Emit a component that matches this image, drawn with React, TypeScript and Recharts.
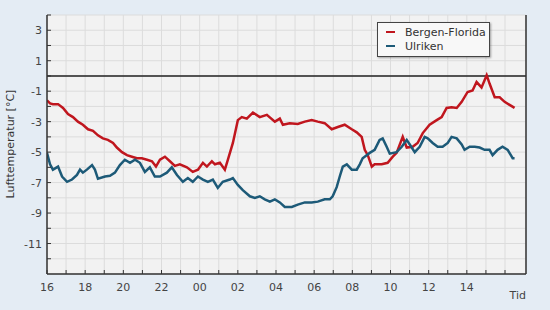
import React from 'react'
import { LineChart, Line, XAxis, YAxis, CartesianGrid, ReferenceLine } from 'recharts'

// hours since 16:00
const redTime = [0, 0.16, 0.31, 0.58, 0.84, 1.1, 1.36, 1.62, 1.88, 2.15, 2.41, 2.67, 2.93, 3.19, 3.46, 3.66, 3.93, 4.19, 4.45, 4.71, 4.97, 5.24, 5.5, 5.71, 5.92, 6.18, 6.44, 6.7, 6.96, 7.33, 7.64, 7.91, 8.17, 8.38, 8.64, 8.8, 9.06, 9.32, 9.48, 9.74, 10.0, 10.21, 10.47, 10.79, 11.15, 11.52, 11.94, 12.2, 12.36, 12.72, 13.14, 13.51, 13.87, 14.19, 14.55, 14.92, 15.24, 15.6, 15.97, 16.23, 16.49, 16.65, 16.81, 17.02, 17.17, 17.54, 17.85, 18.12, 18.32, 18.64, 18.85, 19.16, 19.42, 19.69, 20.05, 20.42, 20.68, 20.94, 21.2, 21.47, 21.73, 22.04, 22.3, 22.51, 22.77, 23.04, 23.19, 23.46, 23.72, 23.98, 24.24, 24.5]
const redTemp = [-1.6, -1.8, -1.85, -1.85, -2.1, -2.5, -2.7, -3.0, -3.2, -3.5, -3.6, -3.9, -4.1, -4.2, -4.4, -4.7, -5.0, -5.2, -5.3, -5.4, -5.4, -5.5, -5.6, -5.95, -5.5, -5.3, -5.6, -5.9, -5.8, -6.0, -6.3, -6.15, -5.7, -5.95, -5.6, -5.8, -5.7, -6.15, -5.5, -4.4, -2.9, -2.7, -2.8, -2.4, -2.7, -2.55, -3.0, -2.8, -3.2, -3.1, -3.15, -3.0, -2.9, -3.0, -3.1, -3.5, -3.35, -3.2, -3.5, -3.7, -4.0, -4.85, -5.2, -5.95, -5.8, -5.8, -5.7, -5.3, -5.05, -4.0, -4.7, -4.65, -4.4, -3.75, -3.2, -2.9, -2.7, -2.1, -2.05, -2.1, -1.7, -1.05, -0.95, -0.4, -0.75, 0.05, -0.5, -1.4, -1.4, -1.7, -1.9, -2.1]

const blueTime = [0, 0.16, 0.31, 0.58, 0.79, 1.05, 1.31, 1.57, 1.73, 1.88, 2.09, 2.36, 2.51, 2.67, 3.04, 3.3, 3.56, 3.82, 4.08, 4.35, 4.61, 4.87, 5.13, 5.39, 5.65, 5.92, 6.28, 6.54, 6.81, 7.12, 7.38, 7.64, 7.91, 8.17, 8.43, 8.69, 8.95, 9.21, 9.58, 9.74, 10.0, 10.26, 10.63, 10.89, 11.15, 11.41, 11.68, 11.94, 12.2, 12.46, 12.83, 13.14, 13.51, 13.87, 14.19, 14.55, 14.82, 14.97, 15.18, 15.34, 15.5, 15.71, 15.97, 16.23, 16.39, 16.54, 16.75, 16.91, 17.17, 17.43, 17.59, 17.8, 17.96, 18.32, 18.59, 18.85, 19.01, 19.27, 19.53, 19.79, 19.95, 20.21, 20.47, 20.73, 21.0, 21.2, 21.47, 21.73, 21.88, 22.15, 22.41, 22.67, 22.93, 23.19, 23.35, 23.61, 23.87, 24.14, 24.4, 24.5]
const blueTemp = [-5.05, -5.8, -6.15, -5.95, -6.6, -6.95, -6.8, -6.5, -6.15, -6.35, -6.15, -5.85, -6.15, -6.75, -6.6, -6.55, -6.35, -5.85, -5.5, -5.7, -5.5, -5.7, -6.3, -6.0, -6.6, -6.6, -6.35, -6.0, -6.5, -6.95, -6.7, -6.95, -6.6, -6.8, -6.95, -6.8, -7.35, -6.95, -6.8, -6.7, -7.15, -7.5, -7.9, -8.0, -7.9, -8.1, -8.25, -8.1, -8.3, -8.6, -8.6, -8.45, -8.3, -8.3, -8.25, -8.1, -8.1, -7.9, -7.3, -6.6, -5.95, -5.8, -6.15, -6.15, -5.8, -5.4, -5.2, -5.05, -4.85, -4.2, -4.1, -4.65, -5.1, -5.0, -4.65, -4.2, -4.5, -5.0, -4.65, -4.0, -4.1, -4.4, -4.65, -4.65, -4.4, -4.0, -4.1, -4.5, -4.85, -4.65, -4.65, -4.7, -4.85, -4.85, -5.2, -4.85, -4.65, -4.85, -5.4, -5.4]

const seriesNames = ['Bergen-Florida', 'Ulriken']

const hourTicks = Array.from({ length: 25 }, (_, i) => i)
const tempTicks = Array.from({ length: 17 }, (_, i) => -12 + i)

const redData = redTime.map((t, i) => ({ t, v: redTemp[i] }))
const blueData = blueTime.map((t, i) => ({ t, v: blueTemp[i] }))

const RED = '#c0161e'
const BLUE = '#1d5a78'
const AXIS = '#333'
const FONT = 'DejaVu Sans, sans-serif'

const LeftTick = (props: any) => {
  const { x, y, payload } = props
  const ax = x + 5
  const major = Math.abs(payload.value) % 2 === 1
  return (
    <g>
      <line x1={ax} x2={ax + 4} y1={y} y2={y} stroke={AXIS} />
      {major && (
        <text x={x} y={y + 4} textAnchor="end" fontSize={11} fill="#444" fontFamily={FONT}>{payload.value}</text>
      )}
    </g>
  )
}

const RightTick = (props: any) => {
  const { x, y, payload } = props
  const ax = x - 6
  const major = Math.abs(payload.value) % 2 === 1
  return (
    <g>
      <line x1={ax} x2={ax - 4} y1={y} y2={y} stroke={AXIS} />
      {major && (
        <text x={x} y={y + 4} textAnchor="start" fontSize={11} fill="#444" fontFamily={FONT}>{payload.value}</text>
      )}
    </g>
  )
}

const BottomTick = (props: any) => {
  const { x, y, payload } = props
  const h = payload.value
  const label = h % 2 === 0 && h < 24 ? String((16 + h) % 24).padStart(2, '0') : ''
  return (
    <g>
      <line x1={x} x2={x} y1={y} y2={y - 4} stroke={AXIS} />
      {label && (
        <text x={x} y={y + 17} textAnchor="middle" fontSize={11} fill="#444" fontFamily={FONT}>{label}</text>
      )}
    </g>
  )
}

const LegendBox = () => (
  <div style={{
    position: 'absolute', left: 377, top: 22, width: 111, height: 31, background: '#f8f8f8',
    border: '1px solid #444', boxShadow: '1px 1px 2px rgba(0,0,0,0.35)', fontFamily: FONT,
    fontSize: 11, color: '#333', paddingTop: 2
  }}>
    {seriesNames.map((name, i) => (
      <div key={name} style={{ display: 'flex', alignItems: 'center', height: 14 }}>
        <span style={{ display: 'inline-block', width: 9, height: 2.5, background: i === 0 ? RED : BLUE, marginLeft: 8, marginRight: 10 }} />
        <span>{name}</span>
      </div>
    ))}
  </div>
)

export default function App() {
  return (
    <div style={{ position: 'absolute', left: 0, top: 0, width: 550, height: 310, background: '#e4ecf4' }}>
      <LineChart width={550} height={310} margin={{ top: 15, right: 0, bottom: 0, left: 0 }}>
        <CartesianGrid yAxisId="left" fill="#f2f2f2" stroke="#dcdcdc" strokeWidth={1} />
        <XAxis
          dataKey="t" type="number" domain={[0, 25.1]} ticks={hourTicks} allowDataOverflow
          height={36} tickSize={0} tickMargin={0} tickLine={false} tick={<BottomTick />}
          axisLine={{ stroke: AXIS, strokeWidth: 1.5 }} interval={0}
          label={{ content: (p: any) => (
            <text x={p.viewBox.x + p.viewBox.width} y={p.viewBox.y + 25} textAnchor="end" fontSize={11} fill="#444" fontFamily={FONT}>Tid</text>
          ) }}
        />
        <YAxis
          yAxisId="left" domain={[-13, 4]} ticks={tempTicks} width={47} tickSize={0} tickMargin={5}
          tickLine={false} tick={<LeftTick />} axisLine={{ stroke: AXIS, strokeWidth: 1.5 }} interval={0}
          label={{ content: () => (
            <text x={14} y={144} transform="rotate(-90 14 144)" textAnchor="middle" fontSize={11} fill="#333" fontFamily={FONT}>Lufttemperatur [°C]</text>
          ) }}
        />
        <YAxis
          yAxisId="right" orientation="right" domain={[-13, 4]} ticks={tempTicks} width={24} tickSize={0} tickMargin={6}
          tickLine={false} tick={<RightTick />} axisLine={{ stroke: AXIS, strokeWidth: 1.5 }} interval={0}
        />
        <ReferenceLine yAxisId="left" y={0} stroke="#222" strokeWidth={1.5} />
        <Line yAxisId="left" data={redData} dataKey="v" name={seriesNames[0]} stroke={RED} strokeWidth={2.5} dot={false} isAnimationActive={false} />
        <Line yAxisId="left" data={blueData} dataKey="v" name={seriesNames[1]} stroke={BLUE} strokeWidth={2.5} dot={false} isAnimationActive={false} />
      </LineChart>
      <LegendBox />
    </div>
  )
}
